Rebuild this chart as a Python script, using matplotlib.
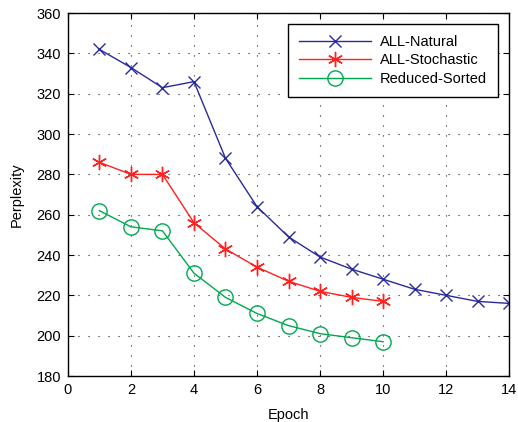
import matplotlib
matplotlib.use("Agg")
import matplotlib.pyplot as plt

plt.rcParams['font.family'] = ['Liberation Sans', 'DejaVu Sans']

epochs_natural = list(range(1, 15))
natural = [342, 333, 323, 326, 288, 264, 249, 239, 233, 228, 223, 220, 217, 216]
epochs_short = list(range(1, 11))
stochastic = [286, 280, 280, 256, 243, 234, 227, 222, 219, 217]
sorted_red = [262, 254, 252, 231, 219, 211, 205, 201, 199, 197]

fig = plt.figure(figsize=(5.18, 4.22), dpi=100)
ax = fig.add_axes([0.131, 0.109, 0.852, 0.860])

ax.plot(epochs_natural, natural, color='#2a2a9c', marker='x', markersize=9,
        linewidth=1, markeredgewidth=1, label='ALL-Natural')
ax.plot(epochs_short, stochastic, color='#ff2020', marker=(6, 2, 0), markersize=11,
        linewidth=1, markeredgewidth=1, label='ALL-Stochastic')
ax.plot(epochs_short, sorted_red, color='#00a850', marker='o', markersize=11,
        markerfacecolor='none', linewidth=1, markeredgewidth=1, label='Reduced-Sorted')

ax.set_xlim(0, 14)
ax.set_ylim(180, 360)
ax.set_xticks(range(0, 15, 2))
ax.set_yticks(range(180, 361, 20))
ax.grid(True, linestyle=(0, (1, 8)), color='#222222', linewidth=0.8)
ax.tick_params(direction='in', top=True, right=True, labelsize=10.5, length=4, pad=5)
for s in ax.spines.values():
    s.set_linewidth(1)
ax.set_xlabel('Epoch', fontsize=10.5, labelpad=8)
ax.set_ylabel('Perplexity', fontsize=10.5, labelpad=9)

leg = ax.legend(loc='upper right', fontsize=10.5, fancybox=False, framealpha=1,
                edgecolor='black', borderaxespad=0.75, handlelength=5.0,
                handletextpad=0.6, borderpad=0.75, labelspacing=0.3)
leg.get_frame().set_linewidth(1)

fig.savefig('out.png', dpi=100)
